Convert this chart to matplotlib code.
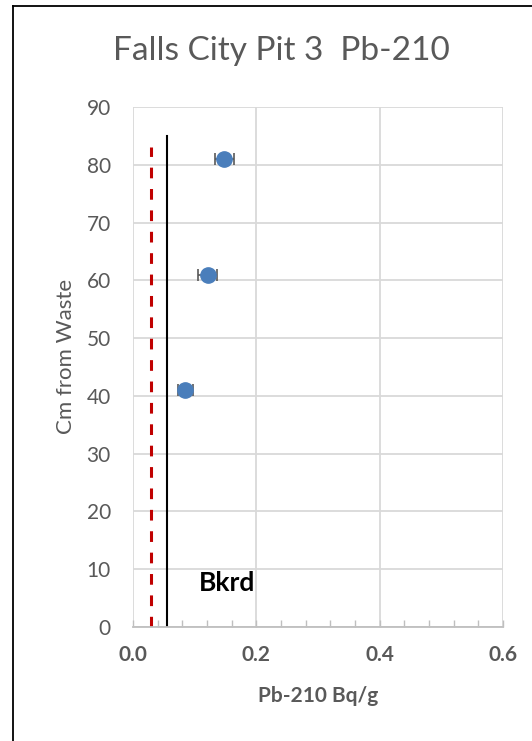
import matplotlib
matplotlib.use("Agg")
import matplotlib.pyplot as plt
from matplotlib.ticker import MultipleLocator
from matplotlib.lines import Line2D

plt.rcParams['font.family'] = ['Lato', 'DejaVu Sans']

# Data
depth_cm = [81, 61, 41]
pb210 = [0.148, 0.121, 0.085]
pb210_err = [0.015, 0.016, 0.012]
bkrd_value = 0.055
bkrd_top = 85
red_value = 0.029
red_top = 83
title = "Falls City Pit 3  Pb-210"
xlabel = "Pb-210 Bq/g"
ylabel = "Cm from Waste"
xtick_vals = [0, 0.2, 0.4, 0.6]
xtick_labels = ['0.0', '0.2', '0.4', '0.6']

fig = plt.figure(figsize=(5.32, 7.41), dpi=100)
ax = fig.add_axes([133/532, 1-627/741, 370/532, (627-107)/741])

grid_c = '#d9d9d9'
text_c = '#595959'

ax.set_xlim(0, 0.6)
ax.set_ylim(0, 90)
ax.xaxis.set_minor_locator(MultipleLocator(0.04))
ax.yaxis.set_major_locator(MultipleLocator(10))
ax.set_xticks(xtick_vals)
ax.set_xticklabels(xtick_labels, fontweight='bold')
ax.grid(True, which='major', color=grid_c, linewidth=1.3)
ax.set_axisbelow(True)
for s in ['top', 'right', 'left']:
    ax.spines[s].set_visible(False)
ax.spines['bottom'].set_color('#bfbfbf')
ax.spines['bottom'].set_linewidth(1.3)
ax.tick_params(axis='x', which='both', direction='in', color='#bfbfbf', length=5, width=1,
               labelsize=15, labelcolor=text_c, pad=13)
ax.tick_params(axis='y', which='both', length=0, labelsize=15, labelcolor=text_c, pad=16)

ax.plot([red_value, red_value], [0, red_top], color='#c00000', linewidth=2.2,
        linestyle=(0, (3.5, 3.5)))
ax.plot([bkrd_value, bkrd_value], [0, bkrd_top], color='black', linewidth=1.5)

ax.errorbar(pb210, depth_cm, xerr=pb210_err, fmt='o', color='#4a7ebb', markersize=11,
            ecolor='#595959', elinewidth=1.2, capsize=4, capthick=1.2, zorder=5)

ax.text(0.107, 7.7, "Bkrd", fontsize=19, fontweight='bold', color='black', ha='left', va='center')

fig.text(281/532, 1-51/741, title, fontsize=24, color=text_c, ha='center', va='center')
ax.set_xlabel(xlabel, fontsize=15, fontweight='bold', color=text_c, labelpad=15)
ax.set_ylabel(ylabel, fontsize=16, color=text_c)
ax.yaxis.set_label_coords(-0.154, 0.521)

fig.add_artist(Line2D([13/532, 13/532], [0, 1-6/741], transform=fig.transFigure,
                      color='black', linewidth=1.3))
fig.add_artist(Line2D([13/532, 1], [1-6/741, 1-6/741], transform=fig.transFigure,
                      color='black', linewidth=1.3))

fig.savefig('out.png', dpi=100)
